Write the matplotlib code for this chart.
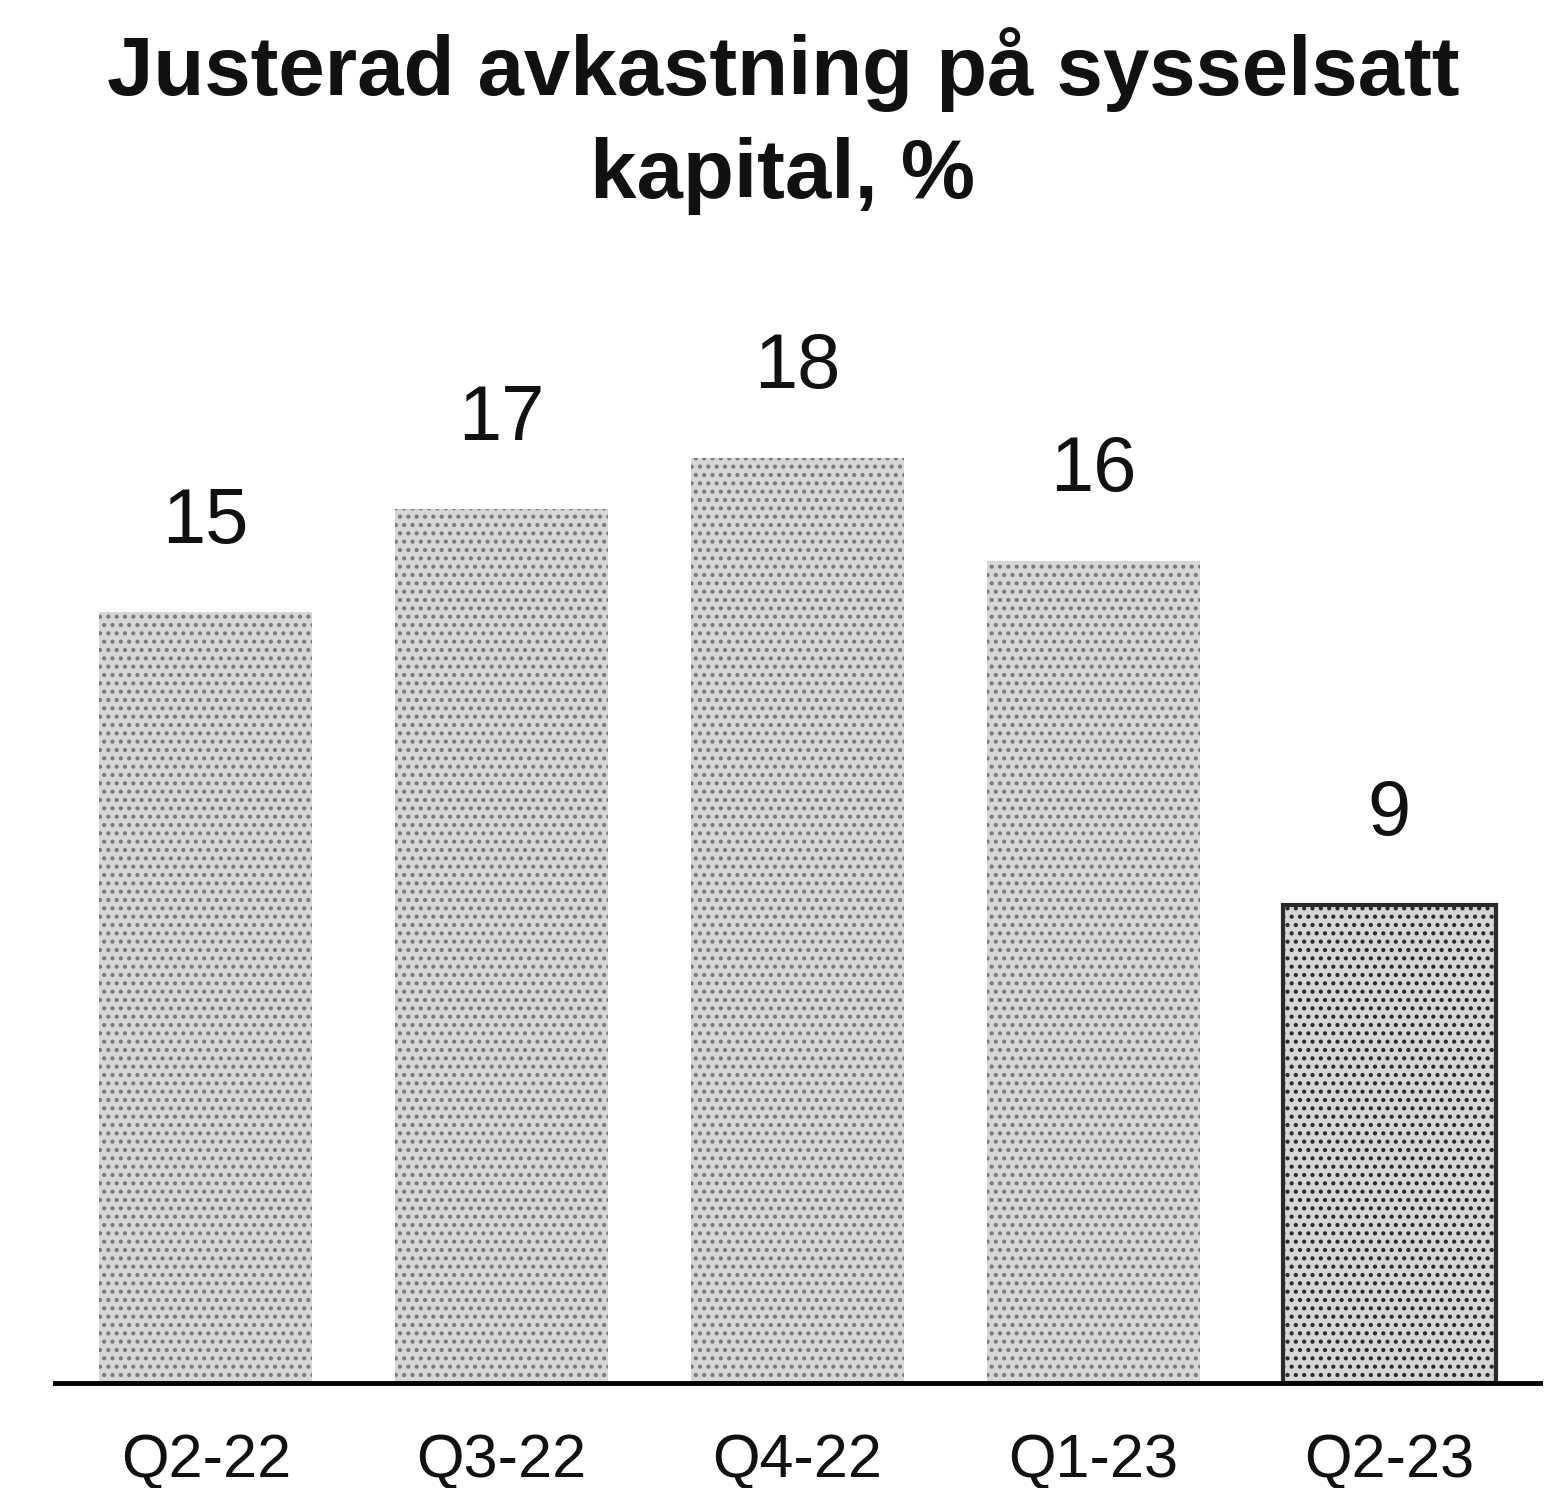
import matplotlib
matplotlib.use("Agg")
import matplotlib.pyplot as plt

kvartal = ["Q2-22", "Q3-22", "Q4-22", "Q1-23", "Q2-23"]
avkastning = [15, 17, 18, 16, 9.3]

plt.rcParams["font.family"] = ["Liberation Sans", "DejaVu Sans"]
plt.rcParams["hatch.linewidth"] = 1.8

fig = plt.figure(figsize=(15.66, 14.88), dpi=100)
ax = fig.add_axes([0.0351, 0.0706, 0.9483, 0.7278])

x = range(len(kvartal))
staplar = ax.bar(x, avkastning, width=0.72, color="#d6d6d6", edgecolor="#7a7a7a",
                 hatch="..", linewidth=0, zorder=2)
# sista stapeln har en mörk kant
staplar[-1].set_edgecolor("#2a2a2a")
staplar[-1].set_linewidth(3)

for xi, v in zip(x, avkastning):
    ax.text(xi, v + 1.75, f"{v:.0f}", ha="center", va="center", fontsize=56, color="#111111")

ax.set_xlim(-0.51, 4.51)
ax.set_ylim(0, 21.07)
ax.set_xticks(list(x))
ax.set_xticklabels(kvartal, fontsize=44, color="#111111")
ax.tick_params(axis="x", length=0, pad=36)
ax.set_yticks([])
for s in ["top", "right", "left"]:
    ax.spines[s].set_visible(False)
ax.spines["bottom"].set_linewidth(3.5)
ax.spines["bottom"].set_zorder(3)

fig.text(0.5, 0.953, "Justerad avkastning på sysselsatt", ha="center", va="center",
         fontsize=60, fontweight="bold", color="#111111")
fig.text(0.5, 0.882, "kapital, %", ha="center", va="center",
         fontsize=60, fontweight="bold", color="#111111")

fig.savefig("out.png", dpi=100)
